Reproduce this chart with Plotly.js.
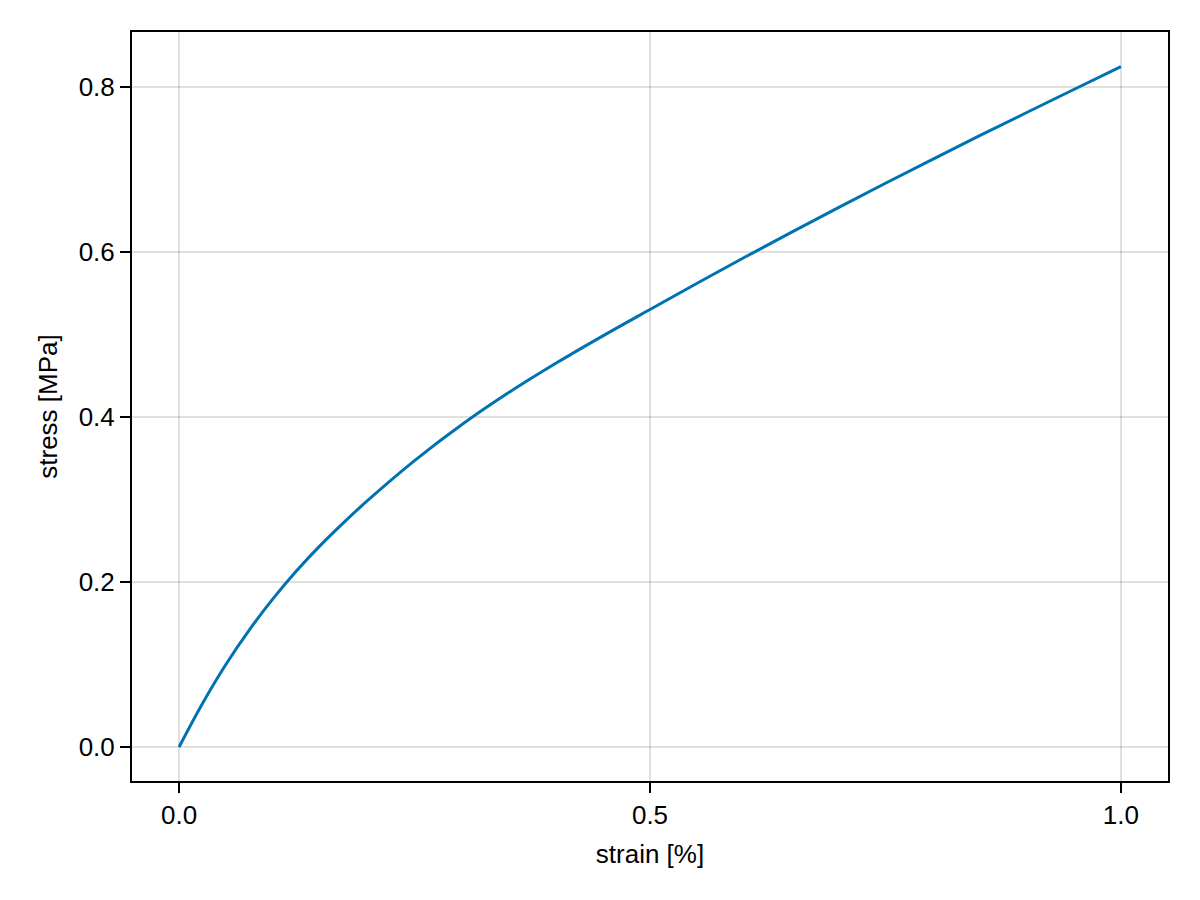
<!DOCTYPE html>
<html>
<head>
<meta charset="utf-8">
<script src="https://cdn.plot.ly/plotly-3.0.1.min.js"></script>
<style>
  html, body { margin: 0; padding: 0; background: #fff; }
  #chart { width: 1200px; height: 900px; }
</style>
</head>
<body>
<div id="chart"></div>
<script>
const strain = [0, 0.025, 0.05, 0.075, 0.10, 0.125, 0.15, 0.175, 0.20, 0.25, 0.30, 0.35, 0.40, 0.45, 0.50, 0.55, 0.60, 0.65, 0.70, 0.75, 0.80, 0.85, 0.90, 0.95, 1.00];
const stress = [0, 0.053, 0.1005, 0.1425, 0.1800, 0.2138, 0.2443, 0.2723, 0.2985, 0.3470, 0.3905, 0.4295, 0.4650, 0.4983, 0.5303, 0.5620, 0.5932, 0.6238, 0.6538, 0.6833, 0.7123, 0.7409, 0.7690, 0.7969, 0.8247];
const xTicks = [0.0, 0.5, 1.0];
const xTickText = ["0.0", "0.5", "1.0"];
const yTicks = [0.0, 0.2, 0.4, 0.6, 0.8];
const yTickText = ["0.0", "0.2", "0.4", "0.6", "0.8"];

const fontFam = "'Liberation Sans', Arial, Helvetica, sans-serif";
const fs = 26;

const trace = {
  x: strain,
  y: stress,
  type: 'scatter',
  mode: 'lines',
  line: { color: '#0072B2', width: 3, shape: 'spline', smoothing: 1 },
  hoverinfo: 'skip'
};

const axisCommon = {
  showline: true,
  mirror: true,
  linecolor: '#000',
  linewidth: 2,
  ticks: 'outside',
  ticklen: 10,
  tickwidth: 2,
  tickcolor: '#000',
  showgrid: true,
  gridcolor: 'rgba(0,0,0,0.12)',
  gridwidth: 2,
  zeroline: false,
  tickfont: { family: fontFam, size: fs, color: '#000' },
  automargin: false
};

const layout = {
  width: 1200,
  height: 900,
  paper_bgcolor: '#fff',
  plot_bgcolor: '#fff',
  showlegend: false,
  margin: { l: 132, r: 32, t: 32, b: 119, pad: 0 },
  font: { family: fontFam, size: fs, color: '#000' },
  xaxis: Object.assign({}, axisCommon, {
    range: [-0.05, 1.05],
    tickmode: 'array',
    tickvals: xTicks,
    ticktext: xTickText,
    title: { text: 'strain [%]', font: { family: fontFam, size: fs, color: '#000' }, standoff: 16 }
  }),
  yaxis: Object.assign({}, axisCommon, {
    range: [-0.0413, 0.8666],
    tickmode: 'array',
    tickvals: yTicks,
    ticktext: yTickText,
    title: { text: 'stress [MPa]', font: { family: fontFam, size: fs, color: '#000' }, standoff: 14 }
  })
};

Plotly.newPlot('chart', [trace], layout, { displayModeBar: false, staticPlot: true });
</script>
</body>
</html>
